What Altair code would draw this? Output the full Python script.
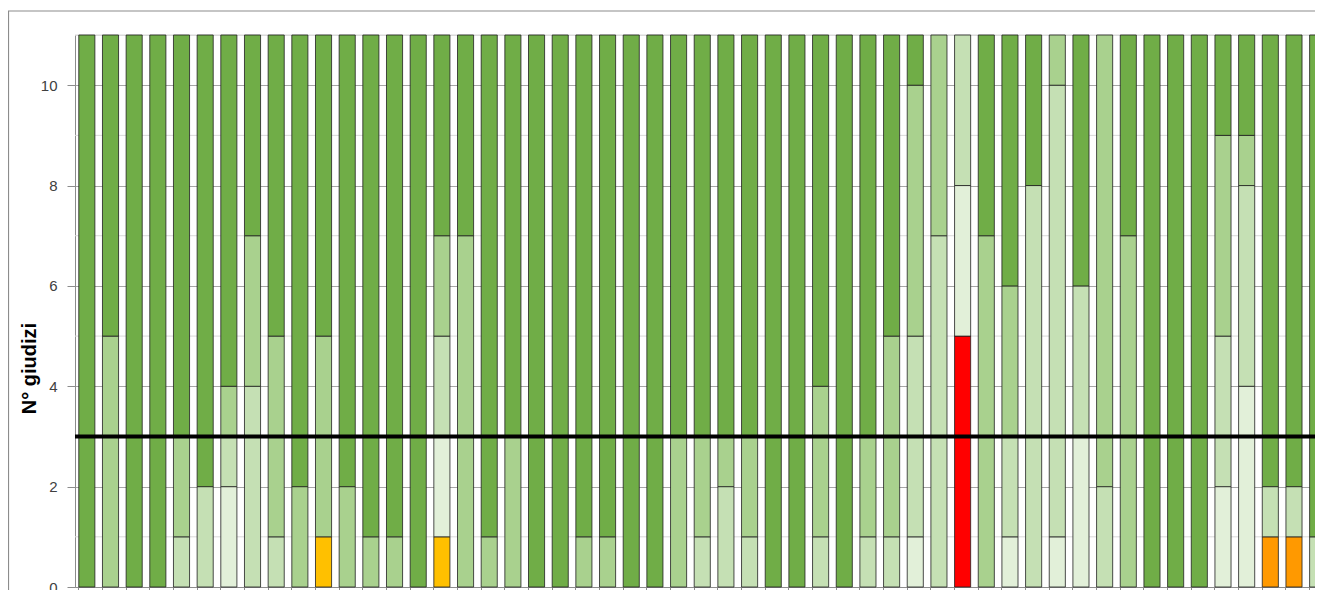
import altair as alt
import pandas as pd

# ---- data (53 judged items, 11 judgements each) ----
categories = [str(i) for i in range(1, 54)]

levels = ["Rosso", "Arancio", "Giallo", "Verde molto chiaro",
          "Verde chiaro", "Verde medio", "Verde scuro"]
colors = ["#FF0000", "#FF9900", "#FFC000", "#E2F0D9",
          "#C5E0B4", "#A9D18E", "#70AD47"]

rosso = [0,0,0,0,0,0,0,0,0,0,
         0,0,0,0,0,0,0,0,0,0,
         0,0,0,0,0,0,0,0,0,0,
         0,0,0,0,0,0,0,5,0,0,
         0,0,0,0,0,0,0,0,0,0,
         0,0,0]
arancio = [0,0,0,0,0,0,0,0,0,0,
           0,0,0,0,0,0,0,0,0,0,
           0,0,0,0,0,0,0,0,0,0,
           0,0,0,0,0,0,0,0,0,0,
           0,0,0,0,0,0,0,0,0,0,
           1,1,0]
giallo = [0,0,0,0,0,0,0,0,0,0,
          1,0,0,0,0,1,0,0,0,0,
          0,0,0,0,0,0,0,0,0,0,
          0,0,0,0,0,0,0,0,0,0,
          0,0,0,0,0,0,0,0,0,0,
          0,0,0]
verde_molto_chiaro = [0,0,0,0,0,0,2,0,0,0,
                      0,0,0,0,0,2,0,0,0,0,
                      0,0,0,0,0,0,0,0,0,0,
                      0,0,0,0,0,1,0,3,0,1,
                      0,1,3,0,0,0,0,0,2,4,
                      0,0,0]
verde_chiaro = [0,0,0,0,1,2,1,4,1,0,
                0,0,0,0,0,2,0,0,0,0,
                0,0,0,0,0,0,1,2,1,0,
                0,1,0,1,1,4,7,3,0,2,
                8,9,3,2,0,0,0,0,3,4,
                1,1,1]
verde_medio = [0,5,0,0,2,0,1,3,4,2,
               4,2,1,1,0,2,7,1,3,0,
               0,1,1,0,0,3,2,1,2,0,
               0,3,0,2,4,5,4,0,7,3,
               0,1,0,9,7,0,0,0,4,1,
               0,0,0]
verde_scuro = [11,6,11,11,8,9,7,4,6,9,
               6,9,10,10,11,4,4,10,8,11,
               11,10,10,11,11,8,8,8,8,11,
               11,7,11,8,6,1,0,0,4,5,
               3,0,5,0,4,11,11,11,2,2,
               9,9,10]

series = [rosso, arancio, giallo, verde_molto_chiaro,
          verde_chiaro, verde_medio, verde_scuro]

soglia = [3]
griglia_minore = [1, 3, 5, 7, 9, 11]
tick_valori = [0, 2, 4, 6, 8, 10]

rows = []
for i, (name, vals) in enumerate(zip(levels, series)):
    for c, v in zip(categories, vals):
        if v > 0:
            rows.append({"cat": c, "livello": name, "ord": i, "n": v})
df = pd.DataFrame(rows)

W, H = 1240, 552
X_RANGE = 1254.5   # band range runs past the visible edge, as in the cropped original
FONT = "Liberation Sans"

y_scale = alt.Scale(domain=[0, 11], nice=False, zero=True)
y_axis = alt.Axis(
    values=tick_valori, title="N° giudizi", grid=True, gridColor="#a6a6a6",
    gridWidth=1, domain=True, domainColor="#8c8c8c", ticks=True,
    tickColor="#8c8c8c", tickSize=8, labelPadding=10, labelFontSize=15,
    labelFont=FONT, labelColor="#404040", titleFont=FONT, titleFontSize=20,
    titleFontWeight="bold", titleColor="#000000", titleAngle=270,
    titleX=-40, titleY=333, titleAlign="center", titleBaseline="alphabetic",
)

x_enc = alt.X(
    "cat:N", sort=categories,
    scale=alt.Scale(range=[0, X_RANGE], paddingInner=0.32, paddingOuter=0.16),
    axis=alt.Axis(labels=False, title=None, bandPosition=0, tickSize=4,
                  tickColor="#8c8c8c", domainColor="#8c8c8c", grid=False),
)

minor = alt.Chart(pd.DataFrame({"v": griglia_minore})).mark_rule(
    color="#d9d9d9", strokeWidth=1
).encode(y=alt.Y("v:Q", scale=y_scale, axis=y_axis))

bars = alt.Chart(df).mark_bar(stroke="#1f1f1f", strokeWidth=0.8).encode(
    x=x_enc,
    y=alt.Y("n:Q", stack="zero", scale=y_scale, axis=y_axis),
    color=alt.Color("livello:N", scale=alt.Scale(domain=levels, range=colors),
                    legend=None),
    order=alt.Order("ord:Q", sort="ascending"),
)

line = alt.Chart(pd.DataFrame({"s": soglia})).mark_rule(
    color="#000000", strokeWidth=4
).encode(y=alt.Y("s:Q", scale=y_scale, axis=y_axis))

one = pd.DataFrame({"k": [0]})
frame_top = alt.Chart(one).mark_rule(color="#8c8c8c", strokeWidth=1.2).encode(
    x=alt.value(-67), x2=alt.value(W + 20), y=alt.value(-24))
frame_left = alt.Chart(one).mark_rule(color="#8c8c8c", strokeWidth=1.2).encode(
    x=alt.value(-66.5), y=alt.value(-24), y2=alt.value(H + 10))

chart = alt.layer(minor, bars, line, frame_top, frame_left).properties(
    width=W, height=H,
    autosize=alt.AutoSizeParams(type="none"),
    padding={"left": 67, "top": 27, "right": 0, "bottom": 3},
).configure_view(stroke=None).configure(background="#ffffff")

chart.save("out.html", embed_options={"renderer": "svg", "actions": False})
